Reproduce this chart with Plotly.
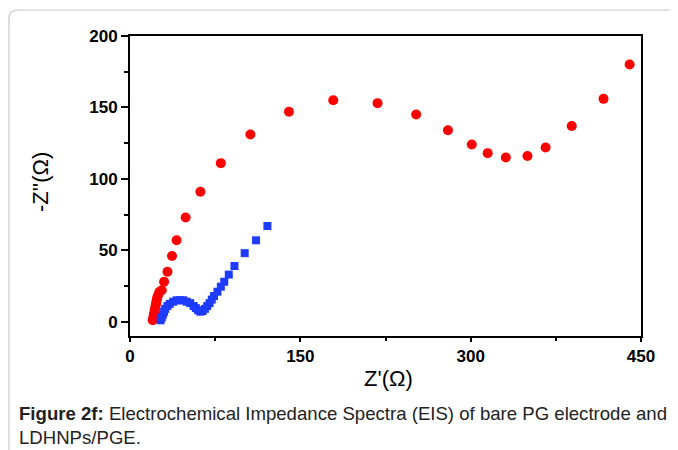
import plotly.graph_objects as go

# Bare PG electrode (red circles)
red_x = [20, 20.5, 21, 21.5, 22, 22.5, 23, 23.5, 24, 25, 26, 28, 30, 33, 37, 41, 49, 62, 80, 106,
         140, 179, 218, 252, 280, 301, 315, 331, 350, 366, 389, 417, 440]
red_y = [1, 3, 5, 7, 9, 11, 13, 15, 17, 19, 21, 22, 28, 35, 46, 57, 73, 91, 111, 131,
         147, 155, 153, 145, 134, 124, 118, 115, 116, 122, 137, 156, 180]

# LDHNPs/PGE (blue squares)
blue_x = [27, 28, 29, 30, 31, 33, 35, 38, 41, 44, 47, 50, 53, 56, 58, 60, 62, 64, 66, 68, 70,
          72, 74, 77, 80, 83, 87, 92, 101, 111, 121]
blue_y = [1, 3, 5, 7, 9, 11, 12.5, 14, 15, 15, 15, 14, 13, 11, 9.5, 8, 7, 7.5, 9, 11, 13,
          15.5, 18, 21, 24.5, 28, 33, 39, 48, 57, 67]

x_ticks = [0, 150, 300, 450]
y_ticks = [0, 50, 100, 150, 200]

caption = ("<b>Figure 2f:</b> Electrochemical Impedance Spectra (EIS) of bare PG electrode and"
           "<br>LDHNPs/PGE.")

fig = go.Figure()
fig.add_trace(go.Scatter(x=red_x, y=red_y, mode="markers",
                         marker=dict(symbol="circle", size=10, color="#FF0000"),
                         name="bare PG"))
fig.add_trace(go.Scatter(x=blue_x, y=blue_y, mode="markers",
                         marker=dict(symbol="square", size=8, color="#1E3CFF"),
                         name="LDHNPs/PGE"))

OFF = 8  # page body margin
W, H = 678 - OFF, 450 - OFF
L, R, T, B = 130 - OFF, 37, 36 - OFF, 114
pw, ph = W - L - R, H - T - B
def px(xp):
    return (xp - OFF - L) / pw
def py(yp):
    return (H - B - (yp - OFF)) / ph

tickfont = dict(family="Liberation Sans, Arial", size=17, color="black")
fig.update_layout(
    width=W, height=H,
    margin=dict(l=L, r=R, t=T, b=B),
    paper_bgcolor="white", plot_bgcolor="white",
    showlegend=False,
    xaxis=dict(range=[0, 450], tickvals=x_ticks, ticktext=[f"<b>{v}</b>" for v in x_ticks],
               showgrid=False, zeroline=False, showline=True, linecolor="black", linewidth=2,
               mirror=True, ticks="outside", ticklen=4, tickwidth=1.5, tickcolor="black",
               tickfont=tickfont,
               minor=dict(tickvals=[75, 225, 375], ticks="outside", ticklen=3, tickcolor="black")),
    yaxis=dict(range=[-10, 200], tickvals=y_ticks, ticktext=[f"<b>{v}</b>" for v in y_ticks],
               showgrid=False, zeroline=False, showline=True, linecolor="black", linewidth=2,
               mirror=True, ticks="outside", ticklen=7, tickwidth=1.5, tickcolor="black",
               tickfont=tickfont,
               minor=dict(tickvals=[25, 75, 125, 175], ticks="outside", ticklen=4, tickcolor="black")),
)

fig.add_annotation(text="Z'(Ω)", xref="paper", yref="paper", x=px(388), y=py(378),
                   xanchor="center", yanchor="middle",
                   showarrow=False, font=dict(family="Liberation Sans, Arial", size=22, color="black"))
fig.add_annotation(text="-Z''(Ω)", xref="paper", yref="paper", x=px(40), y=py(182), textangle=-90,
                   xanchor="center", yanchor="middle",
                   showarrow=False, font=dict(family="Liberation Sans, Arial", size=22, color="black"))
fig.add_annotation(text=caption, xref="paper", yref="paper", x=px(17), y=py(401),
                   xanchor="left", yanchor="top", align="left", showarrow=False,
                   font=dict(family="Liberation Sans, Arial", size=18.6, color="#222"))

# card border with rounded top-left corner
r = 9
path = (f"M {px(9)},{py(470)} L {px(9)},{py(10 + r)} "
        f"Q {px(9)},{py(10)} {px(9 + r)},{py(10)} L {px(700)},{py(10)}")
fig.add_shape(type="path", path=path, xref="paper", yref="paper",
              line=dict(color="#C8C8C8", width=1.2), layer="below")

fig.write_html("out.html")
